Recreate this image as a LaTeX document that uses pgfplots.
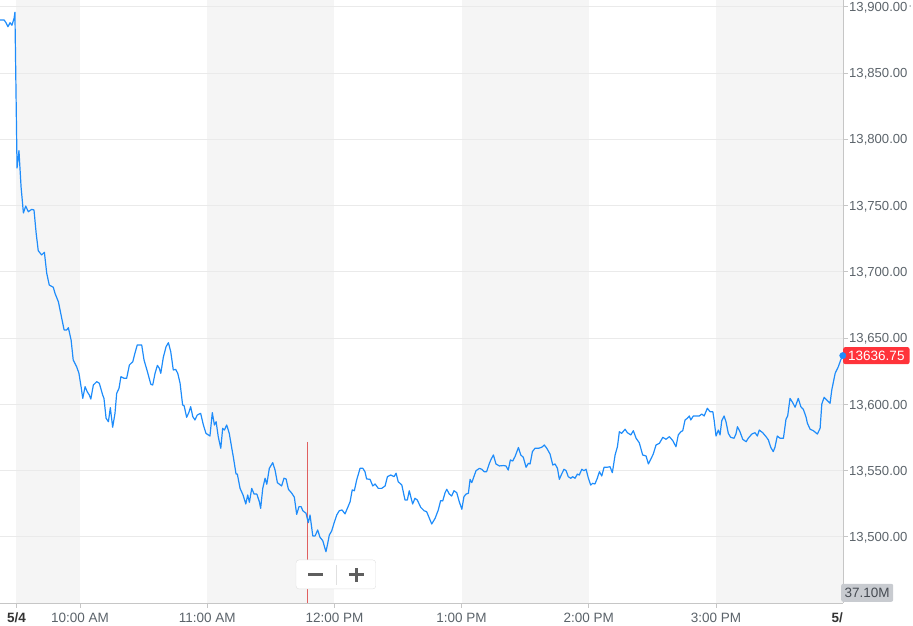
\documentclass[border=0pt]{standalone}
\usepackage{pgfplots}
\usepackage{pgfplotstable}
\pgfplotsset{compat=1.18}
\usepackage{fontspec}
\setmainfont{Liberation Sans}
\definecolor{band}{HTML}{F5F5F5}
\definecolor{gridc}{HTML}{EAEAEA}
\definecolor{axisc}{HTML}{C6C6C6}
\definecolor{tickc}{HTML}{5B636A}
\definecolor{linec}{HTML}{1E8CFA}
\definecolor{pricered}{HTML}{FF333A}
\definecolor{volbox}{HTML}{C8CBD0}
\definecolor{voltext}{HTML}{464B52}
\definecolor{crossc}{HTML}{E06060}
\definecolor{btnc}{HTML}{5E5E5E}

\pgfplotstableread{
t v
-7.7 13890.0
-5.8 13890.0
-4.9 13887.9
-4.0 13884.9
-3.0 13887.9
-2.1 13886.0
-1.1 13891.3
-0.7 13895.8
0.3 13778.3
1.2 13791.4
2.2 13764.0
3.3 13744.4
4.4 13749.6
5.6 13745.3
7.2 13747.1
8.3 13746.6
9.3 13729.3
10.3 13715.9
11.9 13712.7
13.2 13714.7
14.3 13698.9
15.5 13690.0
17.4 13688.3
18.2 13683.8
19.8 13677.4
20.9 13668.7
22.5 13656.1
23.7 13656.1
24.5 13657.8
25.8 13648.5
26.8 13633.4
28.4 13628.4
29.5 13623.4
30.5 13613.3
31.3 13604.5
32.4 13613.3
33.4 13609.5
34.4 13607.0
35.1 13604.0
36.3 13614.6
37.9 13617.1
39.1 13615.9
40.7 13607.0
41.3 13604.5
42.3 13589.5
43.4 13586.9
44.3 13597.5
45.4 13582.7
46.5 13593.2
47.3 13608.3
48.4 13612.1
49.3 13620.8
50.8 13619.6
52.0 13619.6
53.3 13629.7
54.9 13632.2
55.9 13638.5
57.0 13644.8
59.1 13644.8
60.2 13633.4
61.8 13624.6
63.4 13615.1
64.3 13614.6
65.4 13623.4
66.5 13629.4
67.4 13627.2
68.1 13623.4
69.3 13635.5
70.6 13643.5
71.7 13646.5
72.8 13639.7
74.0 13625.9
75.1 13626.4
76.1 13623.4
77.2 13615.9
78.4 13599.5
79.1 13599.0
80.3 13590.2
81.3 13593.7
82.2 13598.2
83.2 13590.7
84.2 13588.2
85.3 13591.9
86.9 13593.2
88.2 13584.4
89.4 13578.1
91.3 13576.1
92.4 13593.7
93.4 13584.4
94.2 13586.9
95.2 13575.6
96.4 13566.8
97.3 13581.9
98.1 13580.6
99.2 13584.4
100.4 13578.1
101.6 13566.8
102.3 13560.5
103.6 13547.4
104.2 13547.4
105.5 13536.6
106.9 13531.6
108.2 13524.8
109.1 13531.6
109.9 13526.1
111.0 13536.6
112.1 13532.3
113.4 13532.3
114.6 13526.5
115.2 13521.5
116.2 13536.6
117.3 13544.2
118.1 13539.7
119.3 13551.7
120.9 13556.0
122.0 13550.4
123.1 13540.9
125.1 13538.4
126.2 13544.2
127.2 13543.7
128.3 13535.9
129.9 13532.9
131.1 13529.9
132.2 13517.0
133.3 13522.8
134.3 13522.8
135.1 13519.7
136.6 13517.8
137.7 13510.7
138.5 13516.5
139.8 13500.7
140.9 13500.7
142.1 13505.2
143.2 13499.7
144.5 13497.1
146.0 13488.8
146.7 13493.9
147.6 13501.4
148.7 13504.4
149.8 13510.2
151.1 13516.5
152.3 13519.7
153.6 13520.3
155.0 13517.3
156.1 13521.5
157.4 13526.5
158.4 13535.4
159.4 13534.8
160.5 13542.9
162.1 13551.7
163.4 13551.7
164.4 13549.2
165.2 13543.7
166.8 13543.4
168.1 13538.4
169.2 13539.9
170.7 13536.6
172.3 13536.6
173.9 13538.4
175.0 13545.4
176.6 13546.7
178.1 13545.4
179.1 13548.0
180.1 13541.6
181.8 13539.1
183.3 13527.8
184.4 13527.8
185.3 13534.8
186.9 13524.8
188.0 13529.1
189.1 13527.8
190.7 13522.3
192.3 13519.7
193.5 13519.0
194.8 13514.0
195.9 13509.7
197.5 13514.0
199.0 13520.3
200.1 13527.3
201.1 13527.1
202.2 13533.3
203.0 13535.9
204.2 13532.3
205.3 13530.8
206.4 13534.8
207.7 13533.3
208.9 13526.5
210.1 13520.8
211.1 13530.3
212.1 13532.3
213.2 13532.9
214.0 13543.4
214.8 13540.9
215.9 13545.9
216.8 13549.9
218.4 13551.7
219.5 13551.0
220.6 13549.2
221.8 13549.2
223.1 13555.5
223.9 13558.5
225.0 13561.8
226.2 13555.0
227.8 13553.5
229.7 13553.8
230.9 13553.5
232.0 13550.4
233.0 13558.0
234.1 13557.2
235.2 13560.6
236.8 13567.4
237.9 13561.8
239.1 13560.0
240.4 13552.5
241.5 13555.5
242.3 13555.0
243.4 13564.3
244.6 13566.8
246.2 13566.8
247.8 13567.6
249.0 13569.3
250.2 13566.8
251.7 13562.5
253.0 13554.2
254.1 13555.0
255.2 13551.7
256.1 13543.4
257.2 13547.4
258.3 13551.0
259.3 13549.9
260.3 13545.4
261.5 13544.2
262.4 13545.4
263.5 13544.2
264.6 13547.4
265.5 13546.7
266.7 13551.0
267.7 13549.9
268.7 13551.0
269.8 13544.2
270.9 13539.1
271.8 13540.4
272.9 13539.9
274.0 13544.2
275.0 13549.2
276.1 13545.9
277.2 13552.5
278.5 13552.5
280.0 13552.9
281.1 13548.4
282.4 13561.8
283.5 13568.0
284.4 13579.3
285.5 13578.1
287.1 13581.2
288.2 13578.6
289.8 13576.9
291.0 13580.1
292.3 13574.4
293.8 13571.0
295.4 13561.8
297.0 13561.0
298.1 13555.0
299.2 13558.5
300.4 13562.5
301.7 13569.3
303.3 13570.6
304.9 13575.1
306.4 13573.6
308.0 13575.6
309.6 13572.6
311.1 13568.0
312.2 13576.9
313.4 13579.3
314.3 13580.1
315.4 13588.2
316.5 13589.5
317.4 13591.2
318.1 13588.2
319.3 13591.2
320.9 13591.2
322.1 13591.2
323.3 13592.7
324.4 13591.2
325.9 13597.0
327.2 13594.4
328.5 13594.4
329.1 13588.2
330.0 13576.1
331.1 13580.6
331.9 13576.9
332.7 13587.6
333.8 13591.2
334.7 13586.9
335.8 13578.1
336.9 13575.1
338.5 13574.4
339.4 13577.6
340.1 13583.1
341.3 13579.3
342.6 13573.6
344.2 13571.8
345.2 13574.4
346.9 13577.6
348.4 13578.6
349.5 13576.1
350.4 13580.6
352.0 13578.6
353.6 13575.6
354.7 13573.1
355.8 13567.6
357.0 13564.3
357.8 13567.6
358.9 13576.1
360.2 13574.4
361.8 13574.4
363.0 13588.7
363.8 13591.2
364.9 13604.5
366.2 13601.2
367.3 13597.8
368.8 13604.5
370.0 13598.2
371.2 13596.2
372.5 13590.2
373.1 13585.7
374.4 13581.2
375.9 13580.1
377.8 13577.6
379.1 13581.9
379.9 13600.2
381.0 13605.3
382.2 13603.3
383.8 13600.8
384.6 13610.8
386.2 13623.4
387.7 13628.4
388.8 13633.4
389.8 13636.75
}\pricedata

\begin{document}
\begin{tikzpicture}
\begin{axis}[
  set layers,
  scale only axis, width=843pt, height=603pt,
  at={(0,0)}, anchor=south west,
  xmin=-7.74, xmax=389.9, ymin=13450.1, ymax=13905.06,
  axis x line=bottom, axis y line=right,
  axis line style={draw=axisc, line width=0.8pt, -},
  xtick={0,30,90,150,210,270,330},
  xticklabels={{\color{black!80}\textbf{5/4}},10:00 AM,11:00 AM,12:00 PM,1:00 PM,2:00 PM,3:00 PM},
  ytick={13500,13550,13600,13650,13700,13750,13800,13850,13900},
  yticklabels={{13,500.00},{13,550.00},{13,600.00},{13,650.00},{13,700.00},{13,750.00},{13,800.00},{13,850.00},{13,900.00}},
  ymajorgrids, grid style={draw=gridc, line width=0.8pt},
  tick align=outside, major tick length=5pt,
  tick style={draw=axisc, line width=0.8pt},
  xticklabel style={font=\fontsize{13.5}{16}\selectfont, text=tickc, anchor=base, yshift=-15pt, inner sep=0pt},
  yticklabel style={font=\fontsize{13.1}{16}\selectfont, text=tickc, anchor=base west, inner sep=0pt, xshift=1pt, yshift=-4.7pt},
  clip=false,
]
\begin{pgfonlayer}{axis background}
\fill[band] (axis cs:0,13450.1) rectangle (axis cs:30,13905.06);
\fill[band] (axis cs:90,13450.1) rectangle (axis cs:150,13905.06);
\fill[band] (axis cs:210,13450.1) rectangle (axis cs:270,13905.06);
\fill[band] (axis cs:330,13450.1) rectangle (axis cs:389.9,13905.06);
\end{pgfonlayer}

\draw[crossc, line width=0.8pt] (axis cs:137.1,13571.6) -- (axis cs:137.1,13450.1);

\addplot[linec, line width=1.2pt, line join=round, mark=none] table[x=t, y=v] {\pricedata};
\addplot[linec, only marks, mark=*, mark size=3.2pt] coordinates {(389.8,13636.75)};

\node[fill=pricered, text=white, font=\fontsize{13.5}{16}\selectfont, inner xsep=5pt, inner ysep=0pt, minimum height=17pt, rounded corners=2pt, anchor=west] at (axis cs:389.9,13636.75) {13636.75};

\node[fill=volbox, text=voltext, font=\fontsize{13.5}{16}\selectfont, inner xsep=3.5pt, inner ysep=0pt, minimum height=18pt, rounded corners=2pt, anchor=south west] at ([xshift=-2pt,yshift=1pt]axis cs:389.9,13450.1) {37.10M};

\node[font=\fontsize{13.5}{16}\selectfont\bfseries, text=black!80, anchor=base east, inner sep=0pt] at ([yshift=-20pt]axis cs:389.9,13450.1) {5/};

\filldraw[fill=white, draw=black!12, rounded corners=3pt] (axis cs:131.9,13482.6) rectangle (axis cs:169.5,13460.7);
\draw[black!12, line width=0.8pt] (axis cs:150.8,13478.8) -- (axis cs:150.8,13463.7);
\draw[btnc, line width=3pt] ([xshift=-7.5pt]axis cs:141.1,13471.6) -- ([xshift=7.5pt]axis cs:141.1,13471.6);
\draw[btnc, line width=3pt] ([xshift=-7.5pt]axis cs:160.2,13471.6) -- ([xshift=7.5pt]axis cs:160.2,13471.6);
\draw[btnc, line width=3pt] ([yshift=-7pt]axis cs:160.2,13471.6) -- ([yshift=7pt]axis cs:160.2,13471.6);
\end{axis}
\pgfresetboundingbox
\path[use as bounding box] (0pt,-23pt) rectangle (913pt,603pt);
\end{tikzpicture}
\end{document}
